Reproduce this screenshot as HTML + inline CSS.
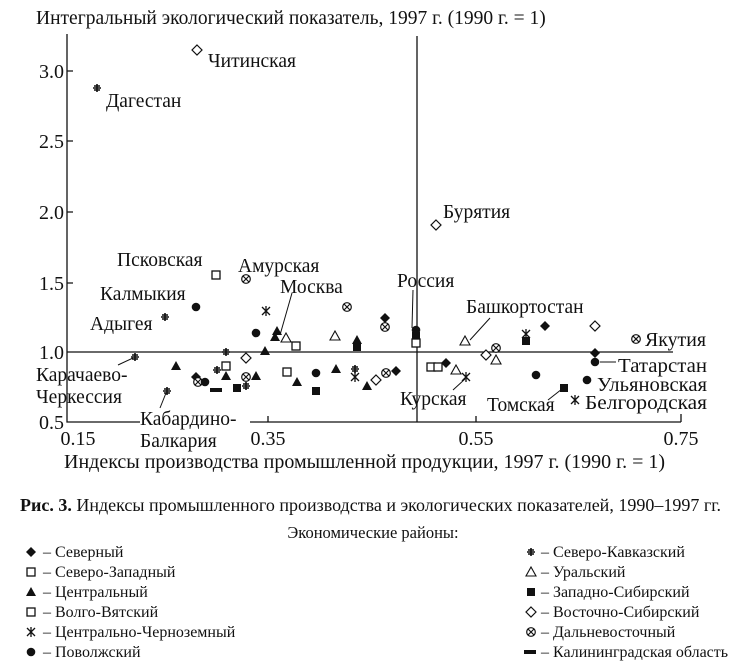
<!DOCTYPE html>
<html><head><meta charset="utf-8"><style>
html,body{margin:0;padding:0;background:#fff}
svg text{font-family:"Liberation Serif",serif;fill:#111}
</style></head><body>
<svg width="750" height="665" viewBox="0 0 750 665" xmlns="http://www.w3.org/2000/svg">
<defs>
<g id="dia"><path d="M0,-5 L5,0 L0,5 L-5,0Z" fill="#111"/></g>
<g id="odia"><path d="M0,-5 L5,0 L0,5 L-5,0Z" fill="#fff" stroke="#111" stroke-width="1.2"/></g>
<g id="sq"><rect x="-4" y="-4" width="8" height="8" fill="#111"/></g>
<g id="osq"><rect x="-4" y="-4" width="8" height="8" fill="#fff" stroke="#111" stroke-width="1.3"/></g>
<g id="tri"><path d="M0,-5 L5,4 L-5,4Z" fill="#111"/></g>
<g id="otri"><path d="M0,-5 L5,4 L-5,4Z" fill="#fff" stroke="#111" stroke-width="1.1"/></g>
<g id="dot"><circle r="4.3" fill="#111"/></g>
<g id="ast" stroke="#111" stroke-width="1.3"><path d="M-4,-4 L4,4 M4,-4 L-4,4 M0,-5 V5"/></g>
<g id="plus" stroke="#111" stroke-width="1.6"><path d="M-4,0 H4 M0,-4 V4 M-3,-2 H3 M-3,2 H3"/></g>
<g id="ox"><circle r="4.3" fill="#fff" stroke="#111" stroke-width="1.2"/><path d="M-3,-3 L3,3 M3,-3 L-3,3" stroke="#111" stroke-width="1.2"/></g>
<g id="bar"><rect x="-6" y="-2" width="12" height="4" fill="#111"/></g>
</defs>

<text x="36" y="24" font-size="19.5">Интегральный экологический показатель, 1997 г. (1990 г. = 1)</text>

<g stroke="#111" stroke-width="1.3" fill="none">
<path d="M67,34 V422 H140"/>
<path d="M250,422 H681"/>
<path d="M67,71 h6 M67,141 h6 M67,212 h6 M67,283 h6"/>
<path d="M268,422 v-6 M476,422 v-6 M681,422 v-8"/>
<path d="M67,352 H673"/>
<path d="M417,36 V422"/>
</g>
<g font-size="20" text-anchor="end">
<text x="64" y="78">3.0</text><text x="64" y="148">2.5</text><text x="64" y="219">2.0</text>
<text x="64" y="290">1.5</text><text x="64" y="359">1.0</text><text x="64" y="429">0.5</text>
</g>
<g font-size="20" text-anchor="middle">
<text x="78" y="445">0.15</text><text x="268" y="445">0.35</text><text x="476" y="445">0.55</text><text x="681" y="445">0.75</text>
</g>
<text x="64" y="468" font-size="20">Индексы производства промышленной продукции, 1997 г. (1990 г. = 1)</text>

<g font-size="19.5">
<text x="208" y="67">Читинская</text>
<text x="106" y="107">Дагестан</text>
<text x="443" y="218">Бурятия</text>
<text x="117" y="266">Псковская</text>
<text x="238" y="272">Амурская</text>
<text x="100" y="300">Калмыкия</text>
<text x="280" y="293">Москва</text>
<text x="397" y="287">Россия</text>
<text x="90" y="330">Адыгея</text>
<text x="466" y="313">Башкортостан</text>
<text x="645" y="346" textLength="61" lengthAdjust="spacingAndGlyphs">Якутия</text>
<text x="618" y="372" textLength="89" lengthAdjust="spacingAndGlyphs">Татарстан</text>
<text x="36" y="381">Карачаево-</text>
<text x="36" y="403">Черкессия</text>
<text x="140" y="425">Кабардино-</text>
<text x="140" y="447">Балкария</text>
<text x="400" y="405">Курская</text>
<text x="487" y="411">Томская</text>
<text x="597" y="391" textLength="110" lengthAdjust="spacingAndGlyphs">Ульяновская</text>
<text x="585" y="409" textLength="122" lengthAdjust="spacingAndGlyphs">Белгородская</text>
</g>
<g stroke="#111" stroke-width="1" fill="none">
<path d="M292,293 L280,335"/>
<path d="M413,290 L412,328"/>
<path d="M490,318 L470,340"/>
<path d="M118,365 L133,358"/>
<path d="M160,408 L166,393"/>
<path d="M453,390 L465,379"/>
<path d="M548,400 L562,389"/>
<path d="M600,362 L616,362"/>
</g>

<use href="#plus" x="97" y="88"/>
<use href="#odia" x="197" y="50"/>
<use href="#odia" x="436" y="225"/>
<use href="#osq" x="216" y="275"/>
<use href="#ox" x="246" y="279"/>
<use href="#dot" x="196" y="307"/>
<use href="#plus" x="165" y="317"/>
<use href="#ast" x="266" y="311"/>
<use href="#tri" x="275" y="337"/>
<use href="#ox" x="347" y="307"/>
<use href="#dia" x="385" y="318"/>
<use href="#ox" x="385" y="327"/>
<use href="#dot" x="416" y="330"/>
<use href="#sq" x="416" y="336"/>
<use href="#osq" x="416" y="343"/>
<use href="#otri" x="465" y="341"/>
<use href="#dia" x="545" y="326"/>
<use href="#odia" x="595" y="326"/>
<use href="#ox" x="636" y="339"/>
<use href="#ast" x="526" y="334"/>
<use href="#sq" x="526" y="341"/>
<use href="#dot" x="256" y="333"/>
<use href="#tri" x="277" y="331"/>
<use href="#otri" x="286" y="338"/>
<use href="#osq" x="296" y="346"/>
<use href="#otri" x="335" y="336"/>
<use href="#tri" x="357" y="340"/>
<use href="#sq" x="357" y="347"/>
<use href="#tri" x="265" y="351"/>
<use href="#plus" x="226" y="352"/>
<use href="#plus" x="135" y="357"/>
<use href="#plus" x="167" y="391"/>
<use href="#tri" x="176" y="366"/>
<use href="#dia" x="196" y="377"/>
<use href="#ox" x="198" y="382"/>
<use href="#dot" x="205" y="382"/>
<use href="#bar" x="216" y="390"/>
<use href="#plus" x="217" y="370"/>
<use href="#osq" x="226" y="366"/>
<use href="#tri" x="226" y="376"/>
<use href="#sq" x="237" y="388"/>
<use href="#ox" x="246" y="377"/>
<use href="#odia" x="246" y="358"/>
<use href="#tri" x="256" y="376"/>
<use href="#plus" x="246" y="386"/>
<use href="#osq" x="287" y="372"/>
<use href="#tri" x="297" y="382"/>
<use href="#dot" x="316" y="373"/>
<use href="#sq" x="316" y="391"/>
<use href="#tri" x="336" y="369"/>
<use href="#plus" x="355" y="369"/>
<use href="#ast" x="355" y="377"/>
<use href="#tri" x="367" y="386"/>
<use href="#odia" x="376" y="380"/>
<use href="#ox" x="386" y="373"/>
<use href="#dia" x="396" y="371"/>
<use href="#osq" x="431" y="367"/>
<use href="#osq" x="438" y="367"/>
<use href="#dia" x="446" y="363"/>
<use href="#otri" x="456" y="370"/>
<use href="#ast" x="466" y="377"/>
<use href="#odia" x="486" y="355"/>
<use href="#ox" x="496" y="348"/>
<use href="#otri" x="496" y="360"/>
<use href="#dot" x="536" y="375"/>
<use href="#sq" x="564" y="388"/>
<use href="#dot" x="587" y="380"/>
<use href="#ast" x="575" y="400"/>
<use href="#dia" x="595" y="353"/>
<use href="#dot" x="595" y="362"/>

<text x="20" y="511" font-size="18"><tspan font-weight="bold">Рис. 3.</tspan> Индексы промышленного производства и экологических показателей, 1990–1997 гг.</text>
<text x="373" y="538" font-size="16.5" text-anchor="middle">Экономические районы:</text>
<g font-size="16">
<use href="#dia" x="31" y="552"/><text x="43" y="557">– Северный</text>
<use href="#osq" x="31" y="572"/><text x="43" y="577">– Северо-Западный</text>
<use href="#tri" x="31" y="592"/><text x="43" y="597">– Центральный</text>
<use href="#osq" x="31" y="612"/><text x="43" y="617">– Волго-Вятский</text>
<use href="#ast" x="31" y="632"/><text x="43" y="637">– Центрально-Черноземный</text>
<use href="#dot" x="31" y="652"/><text x="43" y="657">– Поволжский</text>
<use href="#plus" x="531" y="552"/><text x="541" y="557">– Северо-Кавказский</text>
<use href="#otri" x="531" y="572"/><text x="541" y="577">– Уральский</text>
<use href="#sq" x="531" y="592"/><text x="541" y="597">– Западно-Сибирский</text>
<use href="#odia" x="531" y="612"/><text x="541" y="617">– Восточно-Сибирский</text>
<use href="#ox" x="531" y="632"/><text x="541" y="637">– Дальневосточный</text>
<use href="#bar" x="530" y="652"/><text x="541" y="657">– Калининградская область</text>
</g>
</svg>
</body></html>
